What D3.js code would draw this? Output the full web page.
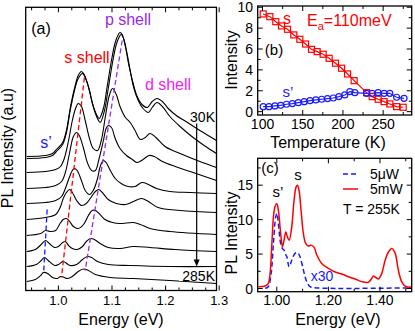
<!DOCTYPE html>
<html>
<head>
<meta charset="utf-8">
<script src="https://cdn.jsdelivr.net/npm/d3@7"></script>
<style>
body { margin: 0; background: #fff; }
svg { display: block; font-family: "Liberation Sans", Arial, Helvetica, sans-serif; }
</style>
</head>
<body>
<svg id="svg1" width="415" height="331"></svg>
<script>
// ---- panel (a): PL spectra, 30K (top) to 285K (bottom), [energy eV, intensity a.u.]
var spec1 = [[0.941,134],[0.976,135],[0.989,137],[0.998,142],[1.008,148],[1.015,160],[1.022,182],[1.030,202],[1.037,215],[1.043,219],[1.048,216],[1.056,204],[1.063,188],[1.071,176],[1.076,172],[1.084,182],[1.091,204],[1.099,230],[1.106,248],[1.112,256],[1.115,258],[1.119,256],[1.125,244],[1.132,224],[1.140,206],[1.147,194],[1.156,186],[1.166,183],[1.175,189],[1.184,192],[1.194,189],[1.205,182],[1.220,175],[1.238,169],[1.264,160],[1.295,150]];
var spec2 = [[0.941,132],[0.976,133],[0.989,135],[0.998,140],[1.008,146],[1.015,158],[1.022,180],[1.030,200],[1.037,212],[1.045,217],[1.050,213],[1.058,200],[1.065,184],[1.073,172],[1.078,168],[1.086,180],[1.093,202],[1.101,228],[1.108,246],[1.114,254],[1.117,256],[1.121,253],[1.127,240],[1.134,220],[1.141,202],[1.149,190],[1.158,182],[1.168,178],[1.175,183],[1.184,188],[1.194,184],[1.208,174],[1.227,164],[1.249,154],[1.272,145],[1.295,137]];
var spec3 = [[0.941,118],[0.976,119],[0.995,121],[1.004,124],[1.011,132],[1.019,150],[1.026,170],[1.032,182],[1.037,187],[1.043,184],[1.050,170],[1.058,152],[1.065,142],[1.073,140],[1.080,150],[1.088,175],[1.095,195],[1.101,202],[1.108,196],[1.115,184],[1.125,173],[1.134,168],[1.143,160],[1.153,151],[1.162,153],[1.171,157],[1.182,153],[1.199,144],[1.227,137],[1.264,129],[1.295,123]];
var spec4 = [[0.941,102],[0.976,103],[0.995,105],[1.006,109],[1.013,118],[1.021,138],[1.028,154],[1.034,158],[1.039,155],[1.047,142],[1.054,128],[1.062,120],[1.069,120],[1.076,132],[1.084,150],[1.089,162],[1.093,165],[1.099,163],[1.106,152],[1.115,142],[1.127,135],[1.138,131],[1.147,128],[1.158,131],[1.169,135],[1.179,134],[1.194,129],[1.218,124],[1.246,119],[1.295,110]];
var spec5 = [[0.941,87],[0.976,88],[0.995,90],[1.006,94],[1.013,102],[1.021,114],[1.026,120],[1.030,122],[1.035,120],[1.043,110],[1.050,100],[1.058,96],[1.065,100],[1.073,112],[1.078,124],[1.084,130],[1.089,128],[1.097,120],[1.106,112],[1.117,107],[1.130,104],[1.143,104],[1.156,108],[1.168,106],[1.183,102],[1.208,99],[1.246,98],[1.295,97]];
var spec6 = [[0.941,71],[0.976,73],[0.995,76],[1.004,84],[1.009,92],[1.015,98],[1.021,101],[1.026,98],[1.034,90],[1.043,85],[1.052,87],[1.062,94],[1.069,99],[1.075,101],[1.082,98],[1.093,91],[1.108,87],[1.125,86],[1.140,89],[1.155,92],[1.168,89],[1.186,83],[1.227,80],[1.295,78]];
var spec7 = [[0.941,55],[0.967,57],[0.976,60],[0.985,59],[0.995,60],[1.002,66],[1.009,71],[1.015,72],[1.021,69],[1.028,64],[1.037,62],[1.047,66],[1.056,75],[1.063,80],[1.069,80],[1.076,77],[1.087,71],[1.101,68],[1.115,67],[1.140,68],[1.153,66],[1.171,62],[1.208,59],[1.295,56]];
var spec8 = [[0.941,39],[0.957,41],[0.968,46],[0.976,50],[0.983,47],[0.993,43],[1.000,44],[1.008,48],[1.013,49],[1.019,45],[1.026,42],[1.035,41],[1.045,44],[1.052,49],[1.060,52],[1.067,51],[1.078,47],[1.093,43],[1.115,42],[1.140,44],[1.171,43],[1.218,41],[1.295,39]];
var spec9 = [[0.941,24],[0.959,26],[0.968,30],[0.974,33],[0.981,30],[0.993,25],[1.000,26],[1.008,29],[1.013,28],[1.022,25],[1.034,26],[1.045,31],[1.054,34],[1.062,33],[1.073,29],[1.093,26],[1.134,25],[1.208,24],[1.295,24]];
var spec10 = [[0.941,9],[0.957,11],[0.967,15],[0.972,18],[0.980,17],[0.989,13],[0.998,12],[1.004,14],[1.009,13.5],[1.017,12],[1.026,14],[1.037,19],[1.047,21.5],[1.056,20],[1.069,16],[1.097,13],[1.140,12],[1.208,10],[1.295,7]];
var spectraA = [spec1, spec2, spec3, spec4, spec5, spec6, spec7, spec8, spec9, spec10];

// peak guide lines [energy, intensity] end points
var guideS = [[1.0485,213],[1.0057,13]];
var guideP = [[1.119,250],[1.050,20]];
var guideS2 = [[0.979,81],[0.9727,20]];
var ticksA = [1.0, 1.1, 1.2, 1.3];

// ---- panel (b): integrated intensity vs temperature
var tempS = [100.8,109.1,116.5,123.6,131.1,138.9,146.4,153.5,160.9,167.9,175.4,182.8,190.8,198.3,205.7,213.9,229.4,236.4,243.8,251.2,258.3,266.7,274.9];
var intS = [9.36,9.10,8.62,8.21,7.89,7.35,6.93,6.48,5.97,5.75,5.50,5.11,4.64,4.16,3.61,2.97,1.82,1.44,1.19,0.96,0.74,0.48,0.42];
var tempS2 = [100.8,108.0,115.4,122.6,129.8,137.1,144.4,151.8,159.0,166.3,173.5,180.8,188.0,194.9,202.3,208.6,214.8,229.4,236.4,243.8,251.2,258.3,266.7,276.0];
var intS2 = [0.48,0.48,0.55,0.61,0.71,0.77,0.86,0.96,1.05,1.12,1.19,1.25,1.31,1.44,1.60,1.92,1.82,1.76,1.76,1.82,1.76,1.76,1.38,1.28];
var ticksBx = [100, 150, 200, 250];
var ticksBy = [0, 2, 4, 6, 8, 10];

// ---- panel (c): PL at 255K for two powers
var spec5mW = [[0.929,0.26],[0.955,0.36],[0.967,0.75],[0.974,2.2],[0.981,6.55],[0.987,10.4],[0.993,11.9],[1.000,12.35],[1.006,11.4],[1.015,8.0],[1.022,6.06],[1.028,7.0],[1.035,8.2],[1.041,7.5],[1.048,7.0],[1.058,8.96],[1.067,12.8],[1.075,14.75],[1.080,15.0],[1.086,14.3],[1.094,11.4],[1.103,8.0],[1.112,6.55],[1.123,6.16],[1.133,6.3],[1.145,5.97],[1.155,4.86],[1.174,3.65],[1.200,2.93],[1.226,2.4],[1.252,2.1],[1.278,1.7],[1.304,1.38],[1.329,1.0],[1.355,0.9],[1.368,1.48],[1.374,1.8],[1.384,1.6],[1.394,1.4],[1.407,2.2],[1.420,4.1],[1.433,5.3],[1.446,5.8],[1.459,5.1],[1.471,2.7],[1.484,1.0],[1.497,0.36],[1.523,0.17]];
var spec5uW = [[0.955,0.03],[0.967,0.26],[0.978,2.2],[0.987,6.55],[0.996,10.4],[1.001,10.9],[1.006,9.45],[1.015,6.55],[1.022,5.8],[1.028,5.6],[1.032,5.1],[1.039,4.6],[1.048,3.16],[1.058,4.1],[1.071,5.1],[1.081,5.2],[1.090,4.6],[1.103,2.7],[1.116,1.0],[1.129,0.26],[1.148,0.1],[1.523,0.1]];
var ticksCx = [1.00, 1.20, 1.40];
var ticksCy = [0, 5, 10, 15];

var red = '#ff0000', blue = '#1a1aff', purple = '#9a28e8', magenta = '#f020f0';

var svg = d3.select('#svg1');
svg.append('rect').attr('width', 415).attr('height', 331).attr('fill', '#fff');

// draws a frame with inward ticks on all four sides
function frame(g, x, y, xMinor, xMajor, yMinor, yMajor) {
    var x0 = x.range()[0], x1 = x.range()[1], y0 = y.range()[0], y1 = y.range()[1];
    var tk = g.append('g').attr('stroke', '#000').attr('stroke-width', 1);
    xMinor.forEach(function(v){
        var len = xMajor.indexOf(v) >= 0 ? 5 : 3;
        tk.append('line').attr('x1', x(v)).attr('x2', x(v)).attr('y1', y0).attr('y2', y0 - len);
        tk.append('line').attr('x1', x(v)).attr('x2', x(v)).attr('y1', y1).attr('y2', y1 + len);
    });
    yMinor.forEach(function(v){
        var len = yMajor.indexOf(v) >= 0 ? 5 : 3;
        tk.append('line').attr('y1', y(v)).attr('y2', y(v)).attr('x1', x0).attr('x2', x0 + len);
        tk.append('line').attr('y1', y(v)).attr('y2', y(v)).attr('x1', x1).attr('x2', x1 - len);
    });
    g.append('rect').attr('x', x0).attr('y', y1).attr('width', x1 - x0).attr('height', y0 - y1)
        .attr('fill', 'none').attr('stroke', '#000').attr('stroke-width', 1.3);
}

function label(g, txt, x, y, size, color, anchor) {
    return g.append('text').text(txt).attr('x', x).attr('y', y)
        .attr('font-size', size).attr('fill', color || '#000')
        .style('text-anchor', anchor || 'middle');
}

// ================= panel (a)
var xA = d3.scaleLinear().domain([0.939, 1.295]).range([25.7, 216.5]);
var yA = d3.scaleLinear().domain([0, 283.2]).range([290.5, 7.3]);
var gA = svg.append('g');

var lineA = d3.line().x(function(d){ return xA(d[0]); }).y(function(d){ return yA(d[1]); })
    .curve(d3.curveCatmullRom.alpha(0.5));

gA.selectAll('path.spec').data(spectraA).enter().append('path')
    .attr('class', 'spec').attr('d', lineA)
    .attr('fill', 'none').attr('stroke', '#000').attr('stroke-width', 1.1);

var guideLine = d3.line().x(function(d){ return xA(d[0]); }).y(function(d){ return yA(d[1]); });
gA.append('path').datum(guideS).attr('d', guideLine).attr('stroke', red).attr('stroke-width', 1.3).attr('stroke-dasharray', '5,3').attr('fill', 'none');
gA.append('path').datum(guideP).attr('d', guideLine).attr('stroke', purple).attr('stroke-width', 1.3).attr('stroke-dasharray', '5,3').attr('fill', 'none');
gA.append('path').datum(guideS2).attr('d', guideLine).attr('stroke', blue).attr('stroke-width', 1.3).attr('stroke-dasharray', '5,3').attr('fill', 'none');

// temperature arrow
var arrowE = 1.258;
gA.append('line').attr('x1', xA(arrowE)).attr('x2', xA(arrowE)).attr('y1', yA(167)).attr('y2', yA(28))
    .attr('stroke', '#000').attr('stroke-width', 1.2);
gA.append('path').attr('d', 'M' + (xA(arrowE) - 3) + ',' + yA(31) + 'L' + xA(arrowE) + ',' + yA(24) + 'L' + (xA(arrowE) + 3) + ',' + yA(31) + 'Z')
    .attr('fill', '#000');
gA.append('rect').attr('x', 179).attr('y', 268).attr('width', 37).attr('height', 13).attr('fill', '#fff');
label(gA, '30K', 215, 122, 14, '#000', 'end');
label(gA, '285K', 215, 281, 14, '#000', 'end');

var minorA = d3.range(0, 15).map(function(i){ return +(0.95 + i * 0.025).toFixed(3); });
frame(gA, xA, yA, minorA, ticksA, [], []);
ticksA.forEach(function(v){ label(gA, d3.format('.1f')(v), xA(v), 305, 13); });

label(gA, 'Energy (eV)', 121, 325, 16);
gA.append('text').text('PL Intensity (a.u)').attr('transform', 'translate(13,148)rotate(-90)')
    .attr('font-size', 16).style('text-anchor', 'middle');
label(gA, '(a)', 41, 34, 16, '#000');
label(gA, 's shell', 87, 63, 16, red);
label(gA, 'p shell', 128, 25, 16, purple);
label(gA, 'd shell', 168, 90, 16, magenta);
label(gA, 's\u2019', 46, 148, 16, blue);

// ================= panel (b)
var xB = d3.scaleLinear().domain([94, 285.5]).range([257.7, 411.7]);
var yB = d3.scaleLinear().domain([-0.32, 10.12]).range([115, 6]);
var gB = svg.append('g');

var lineB = d3.line().x(function(d){ return xB(d[0]); }).y(function(d){ return yB(d[1]); });
var ptsS = tempS.map(function(t, i){ return [t, intS[i]]; });
var ptsS2 = tempS2.map(function(t, i){ return [t, intS2[i]]; });

gB.append('path').datum(ptsS).attr('d', lineB).attr('fill', 'none').attr('stroke', red).attr('stroke-width', 1.2);
gB.append('path').datum(ptsS2).attr('d', lineB).attr('fill', 'none').attr('stroke', blue).attr('stroke-width', 1.2);
gB.selectAll('rect.sq').data(ptsS).enter().append('rect').attr('class', 'sq')
    .attr('x', function(d){ return xB(d[0]) - 3; }).attr('y', function(d){ return yB(d[1]) - 3; })
    .attr('width', 6).attr('height', 6).attr('fill', 'none').attr('stroke', red).attr('stroke-width', 1.2);
gB.selectAll('circle.ci').data(ptsS2).enter().append('circle').attr('class', 'ci')
    .attr('cx', function(d){ return xB(d[0]); }).attr('cy', function(d){ return yB(d[1]); })
    .attr('r', 3).attr('fill', 'none').attr('stroke', blue).attr('stroke-width', 1.2);

frame(gB, xB, yB, d3.range(100, 276, 25), ticksBx, d3.range(0, 11, 1), ticksBy);
ticksBx.forEach(function(v){ label(gB, v, xB(v), 129, 14); });
ticksBy.forEach(function(v){ label(gB, v, 253, yB(v) + 5, 14, '#000', 'end'); });
label(gB, 'Temperature (K)', 328, 148, 16);
gB.append('text').text('Intensity').attr('transform', 'translate(237,60)rotate(-90)')
    .attr('font-size', 16).style('text-anchor', 'middle');
label(gB, 's', 287, 24, 16, red);
var ea = label(gB, 'E', 307, 26, 16, red, 'start');
ea.append('tspan').text('a').attr('font-size', 11).attr('dy', 4);
ea.append('tspan').text('=110meV').attr('dy', -4);
label(gB, '(b)', 274, 55, 15);
label(gB, 's\u2019', 288, 97, 15, blue);

// ================= panel (c)
var xC = d3.scaleLinear().domain([0.926, 1.523]).range([257.7, 411.7]);
var yC = d3.scaleLinear().domain([-0.46, 18.9]).range([291.7, 158.3]);
var gC = svg.append('g');
var lineC = d3.line().x(function(d){ return xC(d[0]); }).y(function(d){ return yC(d[1]); })
    .curve(d3.curveCatmullRom.alpha(0.5));

gC.append('path').datum(spec5uW).attr('d', lineC).attr('fill', 'none').attr('stroke', blue)
    .attr('stroke-width', 1.5).attr('stroke-dasharray', '5,3');
gC.append('path').datum(spec5mW).attr('d', lineC).attr('fill', 'none').attr('stroke', red).attr('stroke-width', 1.5);

frame(gC, xC, yC, d3.range(0, 6).map(function(i){ return +(1.0 + i * 0.1).toFixed(2); }), ticksCx,
    d3.range(0, 19, 2.5), ticksCy);
ticksCx.forEach(function(v){ label(gC, d3.format('.2f')(v), xC(v), 305, 14); });
ticksCy.forEach(function(v){ label(gC, v, 253, yC(v) + 5, 14, '#000', 'end'); });
label(gC, 'Energy (eV)', 338, 325, 16);
gC.append('text').text('PL Intensity').attr('transform', 'translate(237,233)rotate(-90)')
    .attr('font-size', 16).style('text-anchor', 'middle');
label(gC, '(c)', 270, 173, 15);
label(gC, 's\u2019', 278, 197, 15);
label(gC, 's', 298, 180, 15);
label(gC, 'x30', 322, 281, 14, blue);

// legend
gC.append('line').attr('x1', 343).attr('x2', 358).attr('y1', 174).attr('y2', 174)
    .attr('stroke', blue).attr('stroke-width', 1.5).attr('stroke-dasharray', '5,3');
gC.append('line').attr('x1', 343).attr('x2', 358).attr('y1', 189).attr('y2', 189)
    .attr('stroke', red).attr('stroke-width', 1.5);
label(gC, '5\u03bcW', 370, 179, 14, '#000', 'start');
label(gC, '5mW', 370, 194, 14, '#000', 'start');
label(gC, 'T = 255K', 343, 214, 14, '#000', 'start');
</script>
</body>
</html>
